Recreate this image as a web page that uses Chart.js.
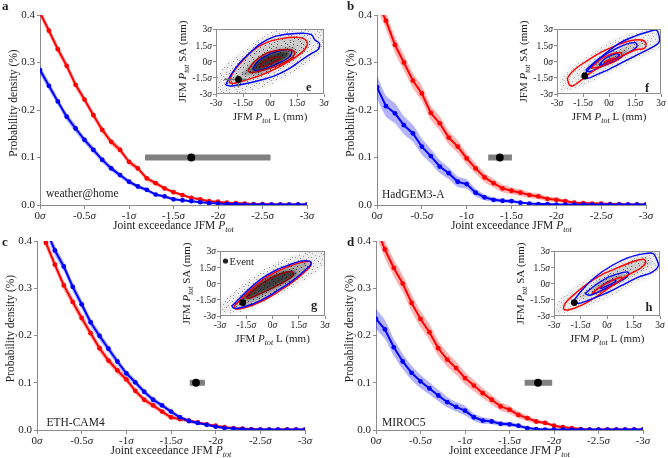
<!DOCTYPE html>
<html>
<head>
<meta charset="utf-8">
<script src="https://cdn.jsdelivr.net/npm/chart.js@4.4.1/dist/chart.umd.min.js"></script>
<style>
  body { margin: 0; background: #fff; }
  #fig { position: relative; width: 668px; height: 458px; overflow: hidden; }
  canvas { position: absolute; }
</style>
</head>
<body>
<div id="fig">
  <canvas id="pa"></canvas>
  <canvas id="pb"></canvas>
  <canvas id="pc"></canvas>
  <canvas id="pd"></canvas>
  <canvas id="ie"></canvas>
  <canvas id="if"></canvas>
  <canvas id="ig"></canvas>
  <canvas id="ih"></canvas>
</div>
<script>
// ---- data (sigma units, probability density in %) ----
const XS = [0,-0.1,-0.2,-0.3,-0.4,-0.5,-0.6,-0.7,-0.8,-0.9,-1,-1.1,-1.2,-1.3,-1.4,-1.5,-1.6,-1.7,-1.8,-1.9,-2,-2.1,-2.2,-2.3,-2.4,-2.5,-2.6,-2.7,-2.8,-2.9,-3];

const A_RED  = [0.405,0.367,0.328,0.293,0.253,0.222,0.189,0.158,0.133,0.116,0.091,0.077,0.056,0.046,0.035,0.027,0.021,0.015,0.012,0.008,0.007,0.005,0.004,0.003,0.002,0.002,0.001,0.001,0.001,0.001,0.001];
const A_BLUE = [0.284,0.251,0.218,0.186,0.161,0.137,0.116,0.095,0.077,0.063,0.049,0.039,0.032,0.022,0.018,0.012,0.010,0.008,0.006,0.004,0.003,0.002,0.002,0.001,0.001,0.001,0.001,0.001,0.001,0.001,0.001];
const A_RED_HW  = [0.009,0.009,0.009,0.009,0.009,0.008,0.008,0.008,0.007,0.007,0.006,0.006,0.005,0.005,0.004,0.004,0.003,0.003,0.003,0.002,0.002,0.002,0.002,0.001,0.001,0.001,0.001,0.001,0.001,0.001,0.001];
const A_BLUE_HW = [0.009,0.009,0.008,0.008,0.008,0.007,0.007,0.006,0.006,0.005,0.005,0.004,0.004,0.003,0.003,0.003,0.002,0.002,0.002,0.002,0.001,0.001,0.001,0.001,0.001,0.001,0.001,0.001,0.001,0.001,0.001];

const B_RED  = [0.430,0.388,0.337,0.300,0.262,0.235,0.194,0.172,0.142,0.123,0.098,0.077,0.058,0.046,0.035,0.030,0.026,0.021,0.018,0.013,0.011,0.008,0.005,0.004,0.003,0.003,0.002,0.002,0.001,0.001,0.001];
const B_BLUE = [0.248,0.208,0.193,0.168,0.151,0.123,0.103,0.081,0.067,0.049,0.044,0.026,0.016,0.011,0.009,0.008,0.005,0.003,0.002,0.002,0.001,0.001,0.001,0.001,0.001,0.001,0.001,0.001,0.001,0.001,0.001];
const B_RED_HW  = [0.017,0.017,0.017,0.017,0.016,0.016,0.015,0.015,0.014,0.013,0.012,0.011,0.010,0.009,0.008,0.007,0.007,0.006,0.006,0.005,0.005,0.004,0.003,0.003,0.002,0.002,0.002,0.001,0.001,0.001,0.001];
const B_BLUE_HW = [0.024,0.022,0.021,0.019,0.018,0.017,0.015,0.014,0.012,0.011,0.010,0.008,0.006,0.005,0.004,0.004,0.003,0.002,0.002,0.001,0.001,0.001,0.001,0.001,0.001,0.001,0.001,0.001,0.001,0.001,0.001];

const C_RED  = [0.440,0.396,0.350,0.306,0.271,0.237,0.205,0.173,0.147,0.126,0.107,0.083,0.064,0.052,0.039,0.027,0.023,0.020,0.016,0.012,0.009,0.006,0.004,0.003,0.002,0.001,0.001,0.001,0.001,0.001,0.001];
const C_BLUE = [0.470,0.425,0.380,0.346,0.303,0.266,0.228,0.199,0.172,0.145,0.120,0.101,0.081,0.064,0.052,0.039,0.027,0.019,0.015,0.011,0.007,0.004,0.003,0.002,0.001,0.001,0.001,0.001,0.001,0.001,0.001];
const C_RED_HW  = [0.011,0.011,0.011,0.010,0.010,0.010,0.009,0.009,0.008,0.008,0.007,0.007,0.006,0.006,0.005,0.005,0.004,0.004,0.003,0.003,0.002,0.002,0.002,0.001,0.001,0.001,0.001,0.001,0.001,0.001,0.001];
const C_BLUE_HW = [0.011,0.011,0.011,0.010,0.010,0.010,0.009,0.009,0.008,0.008,0.007,0.007,0.006,0.006,0.005,0.005,0.004,0.004,0.003,0.003,0.002,0.002,0.002,0.001,0.001,0.001,0.001,0.001,0.001,0.001,0.001];

const D_RED  = [0.430,0.382,0.343,0.310,0.269,0.235,0.207,0.173,0.149,0.131,0.110,0.094,0.078,0.064,0.050,0.043,0.032,0.025,0.018,0.015,0.009,0.006,0.004,0.002,0.001,0.001,0.001,0.001,0.001,0.001,0.001];
const D_BLUE = [0.235,0.213,0.175,0.145,0.121,0.103,0.088,0.073,0.059,0.049,0.041,0.027,0.020,0.018,0.013,0.012,0.009,0.004,0.002,0.001,0.001,0.001,0.001,0.001,0.001,0.001,0.001,0.001,0.001,0.001,0.001];
const D_RED_HW  = [0.018,0.018,0.018,0.018,0.018,0.017,0.017,0.016,0.015,0.014,0.013,0.012,0.011,0.010,0.009,0.008,0.007,0.006,0.005,0.004,0.003,0.003,0.002,0.002,0.001,0.001,0.001,0.001,0.001,0.001,0.001];
const D_BLUE_HW = [0.021,0.020,0.018,0.016,0.015,0.014,0.013,0.012,0.011,0.010,0.010,0.008,0.007,0.006,0.005,0.005,0.004,0.003,0.002,0.001,0.001,0.001,0.001,0.001,0.001,0.001,0.001,0.001,0.001,0.001,0.001];

// event: [best, low, high] along x, drawn at EVENT_Y
const EVENT_Y = 0.1;
const EV_A = [-1.70, -1.18, -2.59];
const EV_B = [-1.37, -1.24, -1.505];
const EV_C = [-1.78, -1.71, -1.88];
const EV_D = [-1.82, -1.67, -1.98];

// insets: JFM Ptot L (x) vs SA (y), sigma units
const E_DOT = [-1.75, -1.65];
const F_DOT = [-1.40, -1.34];
const G_DOT = [-1.70, -1.76];
const H_DOT = [-1.85, -1.76];
const E_CROSS_H = [[-2.55,-1.65],[-1.30,-1.65]];
const E_CROSS_V = [[-1.75,-1.30],[-1.75,-2.40]];

const E_BLUE_OUTER = [[-2.46,-2.17],[-2.18,-1.25],[-1.71,-0.17],[-1.15,0.75],[-0.5,1.68],[0.25,2.29],[1.09,2.54],[1.93,2.6],[2.31,2.45],[2.5,1.98],[2.74,1.68],[2.68,1.12],[2.31,0.75],[1.75,0.14],[1.09,-0.63],[0.35,-1.25],[-0.5,-1.71],[-1.43,-2.08],[-2.18,-2.26]];
const E_RED_OUTER = [[-2.27,-1.95],[-2.08,-1.09],[-1.62,-0.11],[-0.96,1.0],[-0.21,1.74],[0.63,2.11],[1.47,2.23],[1.93,2.05],[2.07,1.52],[1.75,0.82],[1.09,0.05],[0.35,-0.63],[-0.5,-1.25],[-1.34,-1.71],[-2.0,-2.02]];
const E_RED_INNER = [[-1.24,-0.85],[-0.87,-0.02],[-0.21,0.75],[0.53,1.06],[1.19,1.06],[1.38,0.75],[1.09,0.2],[0.35,-0.42],[-0.5,-0.85],[-1.06,-1.03]];
const E_BLUE_INNER = [[-0.96,-0.63],[-0.59,0.14],[0.07,0.75],[0.72,1.06],[1.19,1.0],[1.09,0.45],[0.53,-0.11],[-0.21,-0.63],[-0.78,-0.85]];
const E_RED_CORE = [[-0.6,-0.45],[-0.3,0.0],[0.2,0.35],[0.55,0.4],[0.5,0.15],[0.05,-0.2],[-0.4,-0.5]];
const E_CLOUD_LIGHT = [[-3,-3],[-3,-1.3],[-2.3,0],[-1.5,1.0],[-0.6,2.1],[0.3,2.9],[1.5,3],[3,3],[3,1.5],[2.7,0.6],[1.9,-0.4],[1.0,-1.3],[0.2,-2.0],[-0.8,-2.6],[-1.6,-3]];
const E_CLOUD_MID = [[-2.4,-2.2],[-2.2,-1.1],[-1.6,0.0],[-0.9,1.1],[-0.1,1.9],[0.9,2.3],[1.9,2.4],[2.3,1.8],[2.0,1.0],[1.4,0.2],[0.6,-0.6],[-0.3,-1.3],[-1.3,-1.9],[-2.0,-2.3]];
const E_CLOUD_CORE = [[-1.6,-1.3],[-1.1,-0.3],[-0.4,0.6],[0.5,1.2],[1.3,1.3],[1.5,0.8],[1.0,0.1],[0.2,-0.6],[-0.7,-1.2]];
const E_CLOUD_DARK = [[-1.1,-0.9],[-0.8,-0.1],[-0.2,0.6],[0.5,0.95],[1.0,0.95],[1.1,0.6],[0.6,0.0],[-0.1,-0.5],[-0.7,-0.9]];

const F_BLUE_OUTER = [[-1.44,-1.25],[-0.96,-0.32],[-0.2,0.75],[0.66,1.74],[1.51,2.35],[2.28,2.75],[2.71,2.91],[2.85,2.6],[2.9,1.83],[2.56,1.37],[1.8,0.75],[0.94,0.05],[0.0,-0.72],[-0.77,-1.25],[-1.25,-1.55]];
const F_RED_OUTER = [[-2.29,-2.17],[-2.39,-1.55],[-2.01,-0.78],[-1.25,0.08],[-0.39,0.91],[0.47,1.52],[1.23,1.92],[1.9,1.98],[2.14,1.62],[2.03,1.22],[1.51,1.06],[0.66,0.45],[-0.1,-0.17],[-0.96,-0.94],[-1.72,-1.86],[-2.1,-2.26]];
const F_BLUE_MID = [[-1.34,-0.78],[-0.68,0.14],[0.09,0.91],[0.85,1.52],[1.51,1.74],[1.61,1.37],[1.04,0.75],[0.18,-0.02],[-0.68,-0.63],[-1.15,-0.94]];
const F_RED_MID = [[-1.06,-0.63],[-0.49,0.2],[0.09,0.66],[0.66,0.82],[0.75,0.45],[0.18,-0.11],[-0.49,-0.48]];
const F_BLUE_INNER = [[-0.58,-0.32],[-0.2,0.3],[0.4,0.7],[0.6,0.6],[0.2,0.1],[-0.4,-0.3]];
const F_RED_INNER = [[-0.3,-0.1],[0.1,0.25],[0.35,0.3],[0.1,0.05]];
const F_CLOUD_LIGHT = [[-2.8,-2.8],[-2.8,-1.5],[-2,-0.4],[-1,0.8],[0,1.8],[1,2.5],[2.2,3],[3,3],[3,1.3],[2.3,0.7],[1.3,0],[0.3,-0.8],[-0.7,-1.6],[-1.7,-2.5]];
const F_CLOUD_MID = [[-1.6,-1.1],[-0.8,0.1],[0,0.9],[0.9,1.6],[1.8,2.1],[2.2,1.6],[1.5,1.0],[0.6,0.3],[-0.3,-0.5],[-1.2,-1.2]];
const F_CLOUD_CORE = [[-0.9,-0.6],[-0.3,0.2],[0.4,0.7],[1.0,1.1],[1.1,0.8],[0.5,0.3],[-0.2,-0.2],[-0.7,-0.6]];

const G_BLUE_OUTER = [[-2.33,-2.09],[-2.09,-1.7],[-1.42,-0.64],[-0.66,0.42],[0.2,1.24],[1.06,1.79],[1.72,2.09],[2.16,2.03],[2.2,1.79],[1.82,1.18],[1.15,0.27],[0.3,-0.64],[-0.66,-1.55],[-1.61,-2.15],[-2.18,-2.3]];
const G_RED_OUTER = [[-2.2,-2.1],[-1.95,-1.7],[-1.32,-0.7],[-0.58,0.32],[0.25,1.12],[1.1,1.68],[1.78,2.0],[2.15,2.0],[2.2,1.7],[1.85,1.08],[1.2,0.18],[0.35,-0.74],[-0.62,-1.65],[-1.6,-2.25],[-2.1,-2.35]];
const G_RED_INNER = [[-1.5,-1.3],[-1.0,-0.5],[-0.3,0.3],[0.5,0.9],[1.1,1.1],[1.2,0.8],[0.7,0.2],[0,-0.4],[-0.8,-1.0],[-1.3,-1.35]];
const G_CLOUD_LIGHT = [[-3,-2.8],[-3,-1.8],[-2.2,-0.8],[-1.3,0.5],[-0.3,1.5],[0.8,2.4],[2,3],[3,3],[3,1.8],[2.4,0.9],[1.5,0.0],[0.5,-0.9],[-0.6,-1.8],[-1.7,-2.6]];
const G_CLOUD_MID = [[-2.3,-2.1],[-2.0,-1.6],[-1.4,-0.6],[-0.6,0.45],[0.2,1.25],[1.1,1.8],[1.75,2.1],[2.2,2.0],[1.85,1.15],[1.15,0.25],[0.3,-0.65],[-0.65,-1.55],[-1.6,-2.2]];
const G_CLOUD_DARK = [[-1.8,-1.5],[-1.4,-0.7],[-0.8,0.1],[-0.1,0.7],[0.6,1.1],[1.2,1.2],[1.4,0.9],[0.9,0.3],[0.2,-0.3],[-0.6,-0.9],[-1.3,-1.4]];

const H_BLUE_OUTER = [[-1.91,-1.64],[-1.43,-0.64],[-0.68,0.58],[0.26,1.64],[1.21,2.39],[2.15,2.76],[2.62,2.76],[2.81,2.24],[2.91,1.64],[2.53,1.03],[1.77,0.58],[0.83,-0.18],[-0.11,-0.94],[-1.06,-1.55],[-1.62,-1.85]];
const H_RED_OUTER = [[-2.47,-2.39],[-2.38,-1.85],[-1.81,-0.94],[-1.06,0.03],[-0.21,0.88],[0.64,1.48],[1.49,2.03],[2.06,2.24],[2.19,1.94],[1.96,1.48],[1.3,0.88],[0.45,-0.03],[-0.49,-1.09],[-1.43,-2.0],[-2.19,-2.45]];
const H_BLUE_MID = [[-1.25,-0.94],[-0.68,-0.18],[0.08,0.58],[0.92,1.03],[1.21,1.03],[1.11,0.58],[0.45,-0.03],[-0.3,-0.64],[-0.96,-1.09]];
const H_RED_MID = [[-0.87,-0.94],[-0.4,-0.33],[0.26,0.27],[0.83,0.58],[0.79,0.27],[0.17,-0.27],[-0.49,-0.79]];
const H_BLUE_INNER = [[-0.4,-0.4],[0.0,0.1],[0.4,0.35],[0.5,0.2],[0.1,-0.15],[-0.3,-0.45]];
const H_CLOUD_LIGHT = [[-2.9,-2.8],[-2.8,-1.6],[-2,-0.6],[-1,0.6],[0,1.6],[1,2.4],[2,3],[3,3],[3,1.3],[2.2,0.5],[1.2,-0.3],[0.2,-1.2],[-0.9,-2.0],[-2,-2.7]];
const H_CLOUD_MID = [[-1.8,-1.6],[-1.2,-0.6],[-0.4,0.5],[0.5,1.4],[1.5,2.2],[2.3,2.5],[2.6,1.9],[1.9,1.1],[1.0,0.3],[0,-0.6],[-1,-1.3]];
const H_CLOUD_CORE = [[-0.9,-0.8],[-0.3,0.1],[0.4,0.6],[0.9,0.9],[1.0,0.6],[0.5,0.1],[-0.2,-0.5]];

// ---- styling / layout ----
const SERIF = "'Liberation Serif', 'Times New Roman', serif";
const RED = '#ff0000', BLUE = '#0000ff';
const RED_BAND = 'rgba(255,0,0,0.3)', BLUE_BAND = 'rgba(0,0,255,0.3)';
const AXIS = '#8c8c8c', TEXT = '#222';
Chart.defaults.font.family = SERIF;

// box = canvas [left, top, w, h]; area = plot area [l, t, r, b]; page coords
const PANELS = {
  a: {box: [0, 0, 334, 236], area: [40, 15, 307, 205], letter: [2, 10], model: [46, 196.5]},
  b: {box: [334, 0, 334, 236], area: [377, 15, 646, 205], letter: [347, 10], model: [382, 198]},
  c: {box: [0, 229, 334, 229], area: [37, 241, 305, 430], letter: [2, 246], model: [46.5, 426]},
  d: {box: [334, 229, 334, 229], area: [376, 241, 643, 430], letter: [347, 246], model: [382, 426]}
};
const INSETS = {
  e: {box: [168, 10, 162, 120], area: [216, 29, 324, 94], letter: [306, 91]},
  f: {box: [509, 10, 159, 120], area: [557, 29, 661, 94], letter: [645, 91.5]},
  g: {box: [172, 232, 160, 120], area: [220, 251, 325, 316], letter: [311, 308.5]},
  h: {box: [506, 232, 160, 120], area: [554, 251, 660, 316], letter: [645.5, 311]}
};

// speckle tile for the scatter-cloud look (pixel offsets inside a 16x16 tile)
const SPECKLE = [[1,3],[5,1],[9,4],[13,2],[3,8],[7,6],[11,9],[15,7],[2,13],[6,11],[10,14],[14,12],[4,15],[8,9],[12,5],[0,10],[7,2],[13,15],[5,5],[10,0]];
let specklePattern = null;
function speckle(ctx) {
  if (!specklePattern) {
    const tile = document.createElement('canvas');
    tile.width = 16; tile.height = 16;
    const tc = tile.getContext('2d');
    tc.fillStyle = '#000';
    SPECKLE.forEach(p => tc.fillRect(p[0], p[1], 1, 1));
    specklePattern = ctx.createPattern(tile, 'repeat');
  }
  return specklePattern;
}

// text with italic / subscript pieces
function rich(ctx, parts, x, y, size, align) {
  const items = parts.map(p => {
    const s = p.sub ? size * 0.72 : size;
    const font = (p.i ? 'italic ' : '') + (p.b ? 'bold ' : '') + s + 'px ' + SERIF;
    ctx.font = font;
    return {p, font, w: ctx.measureText(p.t).width};
  });
  const total = items.reduce((s, it) => s + it.w, 0);
  let cx = align === 'center' ? x - total / 2 : align === 'right' ? x - total : x;
  ctx.textAlign = 'left';
  ctx.textBaseline = 'alphabetic';
  items.forEach(it => {
    ctx.font = it.font;
    ctx.fillText(it.p.t, cx, y + (it.p.sub ? size * 0.28 : 0));
    cx += it.w;
  });
}
const sig = v => [{t: v === 0 ? '0' : String(v)}, {t: '\u03c3', i: true}];

function place(cv, box) {
  cv.width = box[2]; cv.height = box[3];
  cv.style.left = box[0] + 'px'; cv.style.top = box[1] + 'px';
  cv.style.width = box[2] + 'px'; cv.style.height = box[3] + 'px';
}
const pts = (xs, ys) => xs.map((x, i) => ({x, y: ys[i]}));
const pairs = arr => arr.map(p => ({x: p[0], y: p[1]}));

// main panel labels
const panelText = {
  id: 'panelText',
  afterDraw(chart, args, o) {
    const {ctx, chartArea: a, scales: {x}} = chart;
    const ox = o.box[0], oy = o.box[1];
    ctx.save();
    ctx.fillStyle = TEXT;
    x.ticks.forEach((t, i) => rich(ctx, sig(t.value), x.getPixelForTick(i), a.bottom + 14, 11, 'center'));
    rich(ctx, [{t: 'Joint exceedance JFM '}, {t: 'P', i: true}, {t: 'tot', i: true, sub: true}],
      (a.left + a.right) / 2, a.bottom + 23.5, 11.5, 'center');
    ctx.save();
    ctx.translate(a.left - 23, (a.top + a.bottom) / 2 - 7);
    ctx.rotate(-Math.PI / 2);
    rich(ctx, [{t: 'Probability density (%)'}], 0, 0, 11.5, 'center');
    ctx.restore();
    rich(ctx, [{t: o.model}], o.modelPos[0] - ox, o.modelPos[1] - oy, 11.5, 'left');
    rich(ctx, [{t: o.letter, b: true}], o.letterPos[0] - ox, o.letterPos[1] - oy, 13, 'left');
    ctx.restore();
  }
};

function mainChart(id, key, model, red, redHw, blue, blueHw, ev) {
  const L = PANELS[key];
  const cv = document.getElementById(id);
  place(cv, L.box);
  const [bx, by, bw, bh] = L.box;
  const [l, t, r, b] = L.area.map((v, i) => v - (i % 2 ? by : bx));
  const up = (v, hw) => XS.map((x, i) => ({x, y: v[i] + hw[i]}));
  const lo = (v, hw) => XS.map((x, i) => ({x, y: Math.max(0, v[i] - hw[i])}));
  const band = {borderWidth: 0, pointRadius: 0, tension: 0.2};
  new Chart(cv, {
    type: 'line',
    data: {datasets: [
      {data: pts(XS, blue), borderColor: BLUE, backgroundColor: BLUE, borderWidth: 2, pointRadius: 2.4, pointBorderWidth: 0, order: 0},
      {data: pts(XS, red), borderColor: RED, backgroundColor: RED, borderWidth: 2, pointRadius: 2.4, pointBorderWidth: 0, order: 1},
      {data: [{x: ev[0], y: EVENT_Y}], showLine: false, pointRadius: 3.9, backgroundColor: '#000', pointBorderWidth: 0, order: 2},
      {data: [{x: ev[1], y: EVENT_Y}, {x: ev[2], y: EVENT_Y}], borderColor: '#808080', borderWidth: 6, borderCapStyle: 'butt', pointRadius: 0, order: 3},
      {data: up(blue, blueHw), fill: '+1', backgroundColor: BLUE_BAND, ...band, order: 4},
      {data: lo(blue, blueHw), fill: false, ...band, order: 5},
      {data: up(red, redHw), fill: '+1', backgroundColor: RED_BAND, ...band, order: 6},
      {data: lo(red, redHw), fill: false, ...band, order: 7}
    ]},
    options: {
      responsive: false, animation: false, events: [],
      layout: {padding: {left: 0, top: t, right: bw - r, bottom: 0}},
      plugins: {
        legend: {display: false}, tooltip: {enabled: false},
        panelText: {box: L.box, model, modelPos: L.model, letter: key, letterPos: L.letter}
      },
      scales: {
        x: {type: 'linear', min: -3, max: 0, reverse: true,
            afterFit: s => { s.height = bh - b; },
            ticks: {display: false, stepSize: 0.5},
            grid: {drawOnChartArea: false, drawTicks: true, tickLength: 4, color: AXIS},
            border: {color: AXIS}},
        y: {min: 0, max: 0.4,
            afterFit: s => { s.width = l; },
            ticks: {stepSize: 0.1, callback: v => v.toFixed(1), color: TEXT, padding: 2, font: {size: 11, family: SERIF}},
            grid: {drawOnChartArea: false, drawTicks: true, tickLength: 3, color: AXIS},
            border: {color: AXIS}}
      }
    },
    plugins: [panelText]
  });
}

// inset: density clouds, contours, frame, labels
const insetDraw = {
  id: 'insetDraw',
  beforeDatasetsDraw(chart) {
    const {ctx, chartArea: a} = chart;
    ctx.save();
    ctx.beginPath(); ctx.rect(a.left, a.top, a.right - a.left, a.bottom - a.top); ctx.clip();
    chart.data.datasets.forEach((ds, i) => {
      if (!ds.polyFill) return;
      const el = chart.getDatasetMeta(i).data;
      const path = () => {
        ctx.beginPath();
        el.forEach((p, k) => k ? ctx.lineTo(p.x, p.y) : ctx.moveTo(p.x, p.y));
        ctx.closePath();
      };
      ctx.filter = 'blur(1.5px)';
      path(); ctx.fillStyle = ds.polyFill; ctx.fill();
      ctx.filter = 'none';
      if (ds.speckle) {
        ctx.globalAlpha = ds.speckle;
        path(); ctx.fillStyle = speckle(ctx); ctx.fill();
        ctx.globalAlpha = 1;
      }
    });
    ctx.restore();
  },
  afterDraw(chart, args, o) {
    const {ctx, chartArea: a, scales: {x, y}} = chart;
    const ox = o.box[0], oy = o.box[1];
    ctx.save();
    ctx.strokeStyle = AXIS; ctx.lineWidth = 1;
    ctx.strokeRect(a.left + 0.5, a.top + 0.5, a.right - a.left - 1, a.bottom - a.top - 1);
    ctx.fillStyle = TEXT;
    x.ticks.forEach((t, i) => rich(ctx, sig(t.value), x.getPixelForTick(i), a.bottom + 11.5, 9.5, 'center'));
    y.ticks.forEach((t, i) => rich(ctx, sig(t.value), a.left - 4, y.getPixelForTick(i) + 3.3, 9.5, 'right'));
    rich(ctx, [{t: 'JFM '}, {t: 'P', i: true}, {t: 'tot', i: true, sub: true}, {t: ' L (mm)'}],
      (a.left + a.right) / 2, a.bottom + 25.5, 11, 'center');
    ctx.save();
    ctx.translate(a.left - 30, (a.top + a.bottom) / 2);
    ctx.rotate(-Math.PI / 2);
    rich(ctx, [{t: 'JFM '}, {t: 'P', i: true}, {t: 'tot', i: true, sub: true}, {t: ' SA (mm)'}], 0, 0, 11, 'center');
    ctx.restore();
    rich(ctx, [{t: o.letter, b: true}], o.letterPos[0] - ox, o.letterPos[1] - oy, 12.5, 'left');
    if (o.legend) {
      ctx.beginPath(); ctx.arc(a.left + 5.5, a.top + 10, 2.6, 0, Math.PI * 2); ctx.fill();
      rich(ctx, [{t: 'Event'}], a.left + 9.5, a.top + 13.5, 10.5, 'left');
    }
    ctx.restore();
  }
};

function insetChart(id, key, clouds, contours, dot, crosses, legend) {
  const L = INSETS[key];
  const cv = document.getElementById(id);
  place(cv, L.box);
  const [bx, by, bw, bh] = L.box;
  const [l, t, r, b] = L.area.map((v, i) => v - (i % 2 ? by : bx));
  const datasets = [
    {data: [{x: dot[0], y: dot[1]}], showLine: false, pointRadius: 3.4, backgroundColor: '#000', pointBorderWidth: 0}
  ];
  crosses.forEach(c => datasets.push({data: pairs(c), borderColor: '#6e6e6e', borderWidth: 1.6, pointRadius: 0}));
  contours.forEach(c => datasets.push({data: pairs(c.pts.concat([c.pts[0]])), borderColor: c.color, borderWidth: 1.4, pointRadius: 0, tension: 0.35}));
  clouds.forEach(c => datasets.push({data: pairs(c.pts), polyFill: c.color, speckle: c.speckle, showLine: false, pointRadius: 0}));
  new Chart(cv, {
    type: 'line',
    data: {datasets},
    options: {
      responsive: false, animation: false, events: [],
      layout: {padding: {left: 0, top: t, right: bw - r, bottom: 0}},
      plugins: {legend: {display: false}, tooltip: {enabled: false},
        insetDraw: {box: L.box, letter: key, letterPos: L.letter, legend}},
      scales: {
        x: {type: 'linear', min: -3, max: 3, afterFit: s => { s.height = bh - b; },
            ticks: {display: false, stepSize: 1.5},
            grid: {drawOnChartArea: false, tickLength: 3, color: AXIS}, border: {display: false}},
        y: {min: -3, max: 3, afterFit: s => { s.width = l; },
            ticks: {display: false, stepSize: 1.5},
            grid: {drawOnChartArea: false, tickLength: 3, color: AXIS}, border: {display: false}}
      }
    },
    plugins: [insetDraw]
  });
}

const LIGHT = 'rgba(0,0,0,0.07)', MID = 'rgba(0,0,0,0.14)', CORE = 'rgba(0,0,0,0.3)', DARK = 'rgba(0,0,0,0.62)';

mainChart('pa', 'a', 'weather@home', A_RED, A_RED_HW, A_BLUE, A_BLUE_HW, EV_A);
mainChart('pb', 'b', 'HadGEM3-A', B_RED, B_RED_HW, B_BLUE, B_BLUE_HW, EV_B);
mainChart('pc', 'c', 'ETH-CAM4', C_RED, C_RED_HW, C_BLUE, C_BLUE_HW, EV_C);
mainChart('pd', 'd', 'MIROC5', D_RED, D_RED_HW, D_BLUE, D_BLUE_HW, EV_D);

insetChart('ie', 'e',
  [{pts: E_CLOUD_LIGHT, color: LIGHT, speckle: 0.35}, {pts: E_CLOUD_MID, color: MID, speckle: 0.4},
   {pts: E_CLOUD_CORE, color: CORE, speckle: 0.3}, {pts: E_CLOUD_DARK, color: DARK}],
  [{pts: E_BLUE_OUTER, color: BLUE}, {pts: E_RED_OUTER, color: RED}, {pts: E_RED_INNER, color: '#c00000'},
   {pts: E_BLUE_INNER, color: '#0000c0'}, {pts: E_RED_CORE, color: '#a00000'}],
  E_DOT, [E_CROSS_H, E_CROSS_V], false);
insetChart('if', 'f',
  [{pts: F_CLOUD_LIGHT, color: LIGHT, speckle: 0.25}, {pts: F_CLOUD_MID, color: MID, speckle: 0.3},
   {pts: F_CLOUD_CORE, color: CORE, speckle: 0.3}],
  [{pts: F_BLUE_OUTER, color: BLUE}, {pts: F_RED_OUTER, color: RED}, {pts: F_BLUE_MID, color: BLUE},
   {pts: F_RED_MID, color: RED}, {pts: F_BLUE_INNER, color: BLUE}, {pts: F_RED_INNER, color: RED}],
  F_DOT, [], false);
insetChart('ig', 'g',
  [{pts: G_CLOUD_LIGHT, color: LIGHT, speckle: 0.35}, {pts: G_CLOUD_MID, color: CORE, speckle: 0.4},
   {pts: G_CLOUD_DARK, color: DARK}],
  [{pts: G_BLUE_OUTER, color: BLUE}, {pts: G_RED_OUTER, color: RED}, {pts: G_RED_INNER, color: '#900000'}],
  G_DOT, [], true);
insetChart('ih', 'h',
  [{pts: H_CLOUD_LIGHT, color: LIGHT, speckle: 0.25}, {pts: H_CLOUD_MID, color: MID, speckle: 0.3},
   {pts: H_CLOUD_CORE, color: CORE, speckle: 0.3}],
  [{pts: H_BLUE_OUTER, color: BLUE}, {pts: H_RED_OUTER, color: RED}, {pts: H_BLUE_MID, color: BLUE},
   {pts: H_RED_MID, color: RED}, {pts: H_BLUE_INNER, color: BLUE}],
  H_DOT, [], false);
</script>
</body>
</html>
